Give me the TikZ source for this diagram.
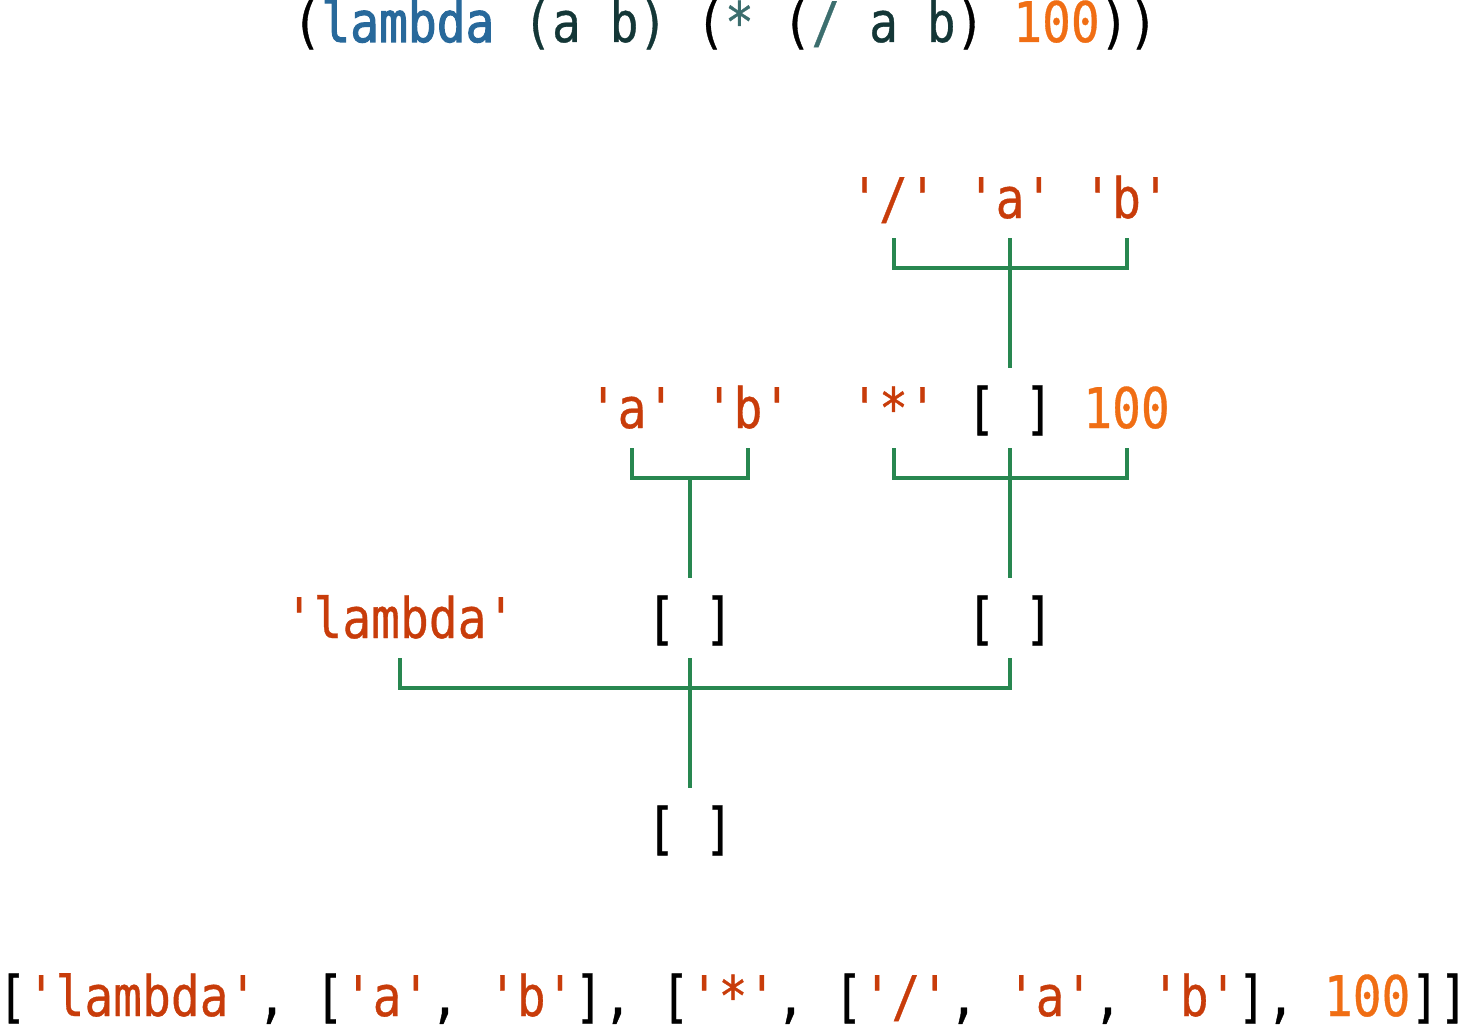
\documentclass[tikz,border=0pt]{standalone}
\usepackage{fontspec}
\newfontfamily\code[FakeStretch=0.855,FakeBold=0.6,WordSpace={1,0,0}]{DejaVu Sans Mono}
\newfontfamily\codebf[FakeStretch=0.855,FakeBold=1.8,WordSpace={1,0,0}]{DejaVu Sans Mono}
\definecolor{strc}{RGB}{200,60,10}
\definecolor{numc}{RGB}{240,110,20}
\definecolor{kwc}{RGB}{40,105,155}
\definecolor{symc}{RGB}{20,55,55}
\definecolor{opc}{RGB}{60,110,110}
\definecolor{linec}{RGB}{40,135,80}
\begin{document}
\begin{tikzpicture}[x=1pt,y=-1pt,
  txt/.style={inner sep=0pt,anchor=base,font=\code\fontsize{56}{60}\selectfont},
  str/.style={txt,text=strc},
  num/.style={txt,text=numc},
  lst/.style={txt,text=black},
  conn/.style={draw=linec,line width=4pt}]
\useasboundingbox (0,0) rectangle (1466,1030);
% top expression
\node[txt] (expr) at (725,42) {(\textcolor{kwc}{\codebf lambda} \textcolor{symc}{(a b)} (\textcolor{opc}{*} (\textcolor{opc}{/} \textcolor{symc}{a b}) \textcolor{numc}{100}))};
% row 1
\node[str] (slash) at (893.5,218) {'/'};
\node[str] (ra) at (1010,218) {'a'};
\node[str] (rb) at (1126.5,218) {'b'};
% row 2
\node[str] (ab1) at (632,428) {'a'};
\node[str] (ab2) at (748,428) {'b'};
\node[str] (star) at (893.5,428) {'*'};
\node[lst] (inner) at (1010,428) {[ ]};
\node[num] (hund) at (1126.5,428) {100};
% row 3
\node[str] (lam) at (400,638) {'lambda'};
\node[lst] (args) at (690,638) {[ ]};
\node[lst] (body) at (1010,638) {[ ]};
% row 4
\node[lst] (root) at (690,848) {[ ]};
% bottom
\node[txt] (py) at (733,1016) {[\textcolor{strc}{'lambda'}, [\textcolor{strc}{'a'}, \textcolor{strc}{'b'}], [\textcolor{strc}{'*'}, [\textcolor{strc}{'/'}, \textcolor{strc}{'a'}, \textcolor{strc}{'b'}], \textcolor{numc}{100}]]};
% connectors
\draw[conn] ([yshift=-20pt]slash.base) |- ([yshift=-50pt]rb.base) -- ([yshift=-20pt]rb.base);
\draw[conn] ([yshift=-20pt]ra.base) -- ([yshift=60pt]inner.base);
\draw[conn] ([yshift=-20pt]ab1.base) |- ([yshift=-50pt]ab2.base) -- ([yshift=-20pt]ab2.base);
\draw[conn] ([yshift=-50pt]ab1.base -| args.base) -- ([yshift=60pt]args.base);
\draw[conn] ([yshift=-20pt]star.base) |- ([yshift=-50pt]hund.base) -- ([yshift=-20pt]hund.base);
\draw[conn] ([yshift=-20pt]inner.base) -- ([yshift=60pt]body.base);
\draw[conn] ([yshift=-20pt]lam.base) |- ([yshift=-50pt]body.base) -- ([yshift=-20pt]body.base);
\draw[conn] ([yshift=-20pt]args.base) -- ([yshift=60pt]root.base);
\end{tikzpicture}
\end{document}
